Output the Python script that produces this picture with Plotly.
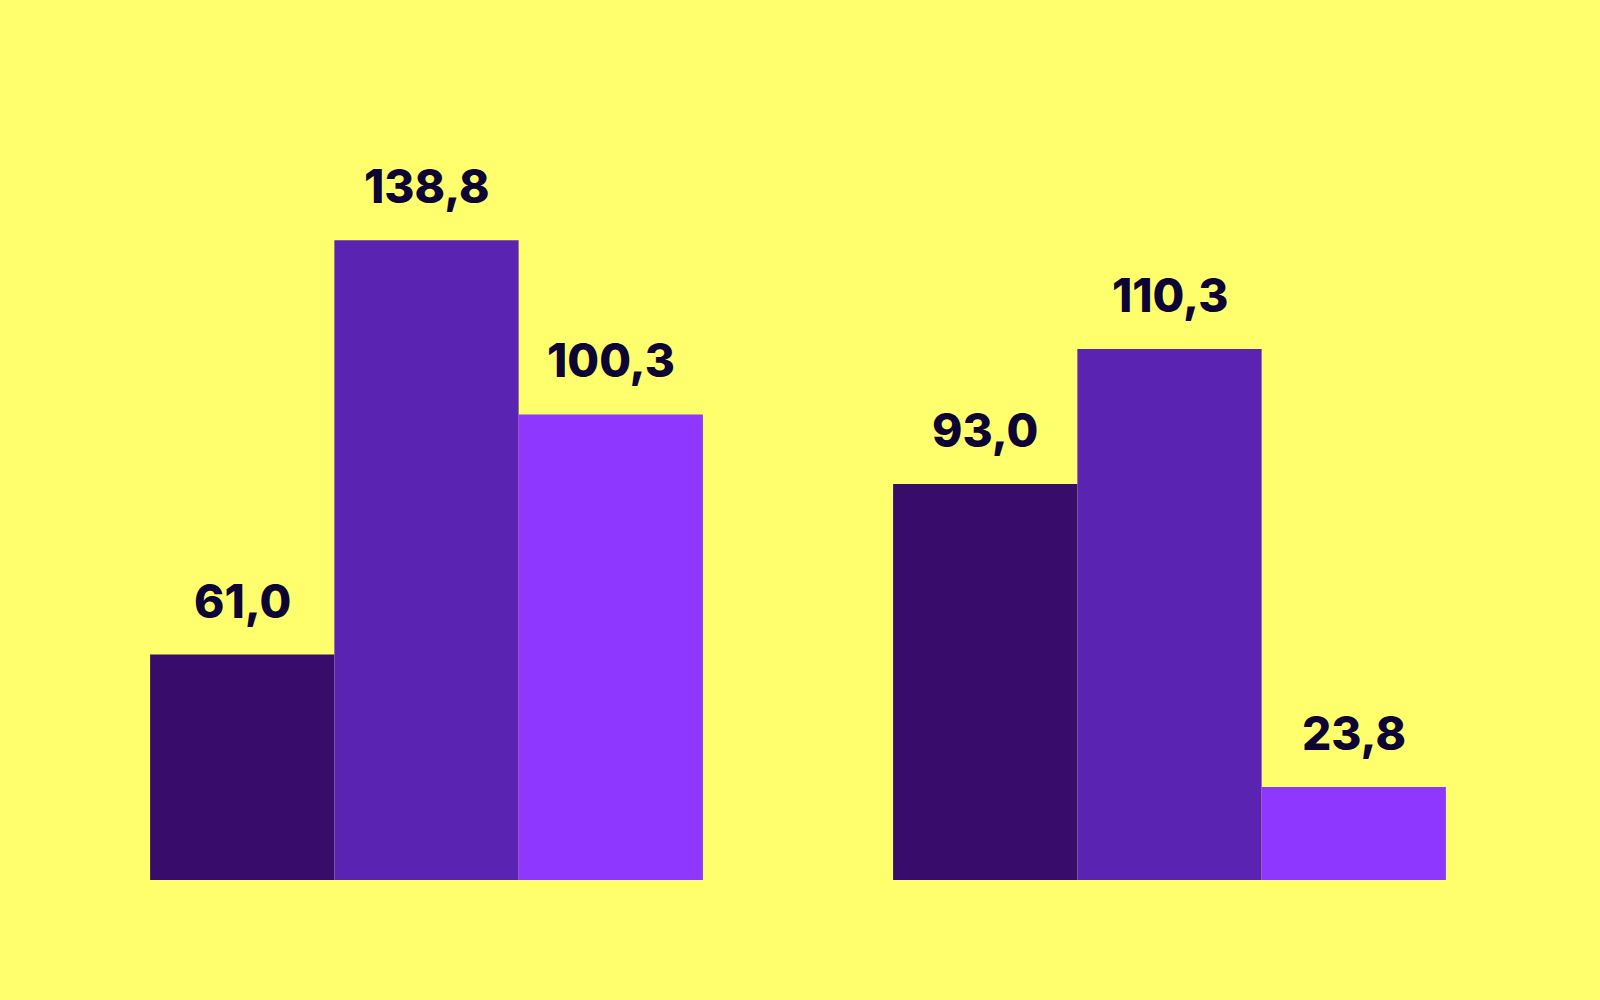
import plotly.graph_objects as go

# two groups, three series each
groups = ["A", "B"]
series_names = ["Serie 1", "Serie 2", "Serie 3"]
labels = [["61,0", "93,0"], ["138,8", "110,3"], ["100,3", "23,8"]]
# bar lengths as drawn in the picture (same units as tallest label)
bar_heights = [[48.9, 85.9], [138.8, 115.2], [101.0, 20.2]]
colors = ["#380c6b", "#5a23b2", "#8e37ff"]

bargap = 0.256

fig = go.Figure()
for name, h, c in zip(series_names, bar_heights, colors):
    fig.add_trace(go.Bar(
        x=groups, y=h, name=name,
        marker=dict(color=c, line=dict(width=0)),
    ))

# value labels above each bar
bw = (1 - bargap) / len(series_names)
for j, (h, lab) in enumerate(zip(bar_heights, labels)):
    for i in range(len(groups)):
        fig.add_annotation(
            x=i + (j - 1) * bw, y=h[i], text=lab[i],
            xref="x", yref="y", showarrow=False,
            yanchor="bottom", yshift=24,
            font=dict(family="Inter", size=46, color="#0d0434", weight=800),
        )

fig.update_layout(
    width=1600, height=1000,
    barmode="group", bargap=bargap, bargroupgap=0,
    paper_bgcolor="#ffff6e", plot_bgcolor="#ffff6e",
    showlegend=False,
    margin=dict(l=55, r=59, t=100, b=120),
)
fig.update_xaxes(visible=False, range=[-0.5, 1.5])
fig.update_yaxes(visible=False, range=[0, 169.2])

fig.write_html("out.html", config={"displayModeBar": False},
               post_script="document.body.style.margin='0';")
